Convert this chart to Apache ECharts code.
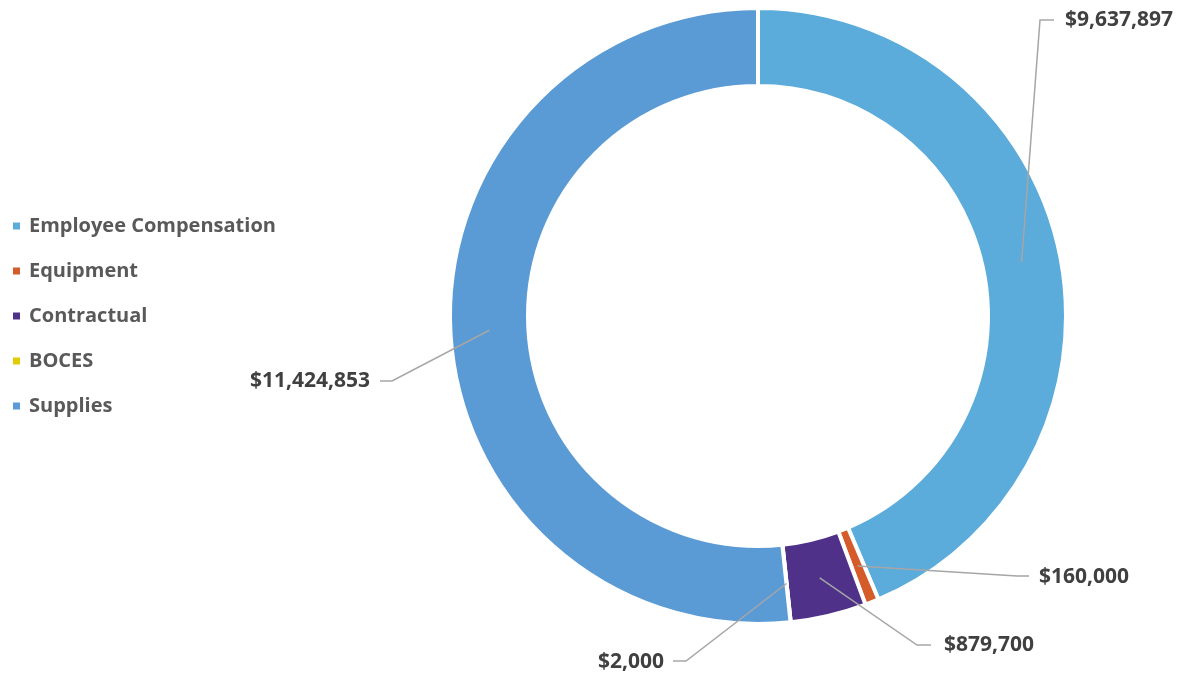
<!DOCTYPE html>
<html>
<head>
<meta charset="utf-8">
<title>Expenditures by Category</title>
<script src="https://cdn.jsdelivr.net/npm/echarts@6/dist/echarts.min.js"></script>
<style>
  html, body { margin: 0; padding: 0; background: #ffffff; }
  #chart { width: 1180px; height: 677px; }
</style>
</head>
<body>
<div id="chart"></div>
<script>
// Spending categories and amounts (dollars)
const categories = ['Employee Compensation', 'Equipment', 'Contractual', 'BOCES', 'Supplies'];
const amounts = [9637897, 160000, 879700, 2000, 11424853];
const colors = ['#5BABDB', '#D55B2A', '#4F3189', '#E2CB00', '#5B9BD5'];

// Ring geometry
const CX = 758, CY = 316;
const R_IN = 230, R_OUT = 308;
const R_MID = 269;

// Where each value label sits, and which side its text hangs from
const labelAnchors = [
  { x: 1065, y: 20,  align: 'left',  bend: [1040, 20],  end: [1054, 20] },
  { x: 1039, y: 577, align: 'left',  bend: [1017, 576], end: [1029, 576] },
  { x: 944,  y: 645, align: 'left',  bend: [917, 645],  end: [931, 645] },
  { x: 664,  y: 662, align: 'right', bend: [686, 661],  end: [673, 661] },
  { x: 370,  y: 381, align: 'right', bend: [392, 381],  end: [380, 381] }
];

const FONT = '"Open Sans", Lato, sans-serif';
const total = amounts.reduce((a, b) => a + b, 0);

// Mid-ring point of a slice, from its share of the total (clockwise from 12 o'clock)
function sliceMidPoint(i) {
  let before = 0;
  for (let k = 0; k < i; k++) before += amounts[k];
  const frac = (before + amounts[i] / 2) / total;
  const ang = (90 - frac * 360) * Math.PI / 180;
  return [CX + R_MID * Math.cos(ang), CY - R_MID * Math.sin(ang)];
}

function money(v) {
  return '$' + v.toString().replace(/\B(?=(\d{3})+(?!\d))/g, ',');
}

const sliceData = categories.map((name, i) => ({ name: name, value: amounts[i] }));

const chart = echarts.init(document.getElementById('chart'), null, { renderer: 'canvas' });

chart.setOption({
  backgroundColor: '#ffffff',
  animation: false,
  color: colors,
  legend: {
    orient: 'vertical',
    left: 6,
    top: 211,
    itemWidth: 9,
    itemHeight: 9,
    itemGap: 25,
    icon: 'rect',
    textStyle: {
      fontFamily: FONT,
      fontWeight: 'bold',
      fontSize: 20,
      lineHeight: 20,
      color: '#595959',
      padding: [0, 0, 0, 3]
    },
    data: categories
  },
  series: [
    {
      // the ring itself
      type: 'pie',
      center: [CX, CY],
      radius: [R_IN, R_OUT],
      startAngle: 90,
      clockwise: true,
      minAngle: 0,
      z: 2,
      itemStyle: { borderColor: '#ffffff', borderWidth: 4 },
      emphasis: { disabled: true },
      label: { show: false },
      labelLine: { show: false },
      data: sliceData
    },
    {
      // invisible copy on top carrying the value labels and leader lines
      type: 'pie',
      center: [CX, CY],
      radius: [R_IN, R_OUT],
      startAngle: 90,
      clockwise: true,
      minAngle: 0,
      z: 4,
      silent: true,
      legendHoverLink: false,
      itemStyle: { color: 'rgba(0,0,0,0)', borderWidth: 0 },
      emphasis: { disabled: true },
      avoidLabelOverlap: false,
      label: {
        show: true,
        position: 'outside',
        formatter: p => money(p.value),
        fontFamily: FONT,
        fontWeight: 'bold',
        fontSize: 21,
        color: '#404040'
      },
      labelLine: {
        show: true,
        lineStyle: { color: '#A6A6A6', width: 1.5 }
      },
      labelLayout: function (params) {
        const a = labelAnchors[params.dataIndex];
        return {
          x: a.x,
          y: a.y,
          align: a.align,
          verticalAlign: 'middle',
          labelLinePoints: [sliceMidPoint(params.dataIndex), a.bend, a.end]
        };
      },
      data: sliceData
    }
  ]
});
</script>
</body>
</html>
